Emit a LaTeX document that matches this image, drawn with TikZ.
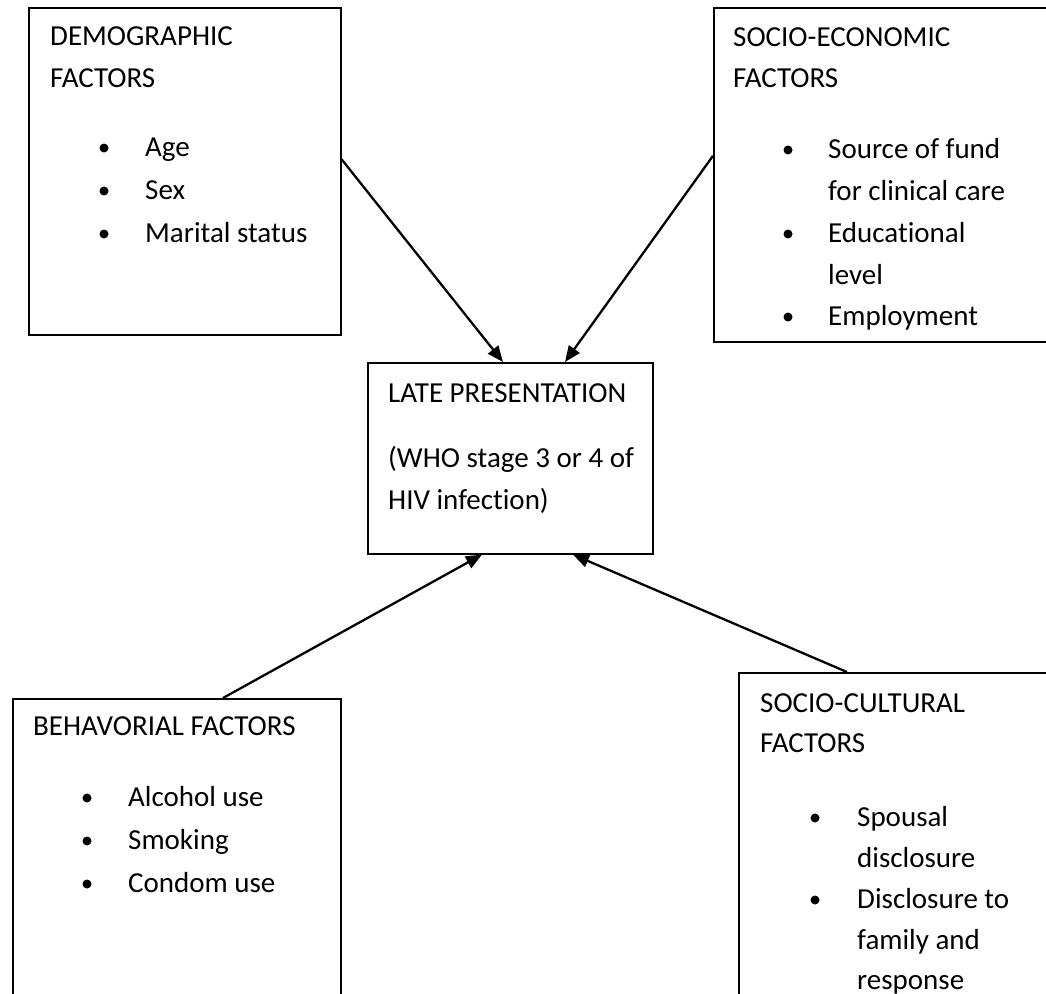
\documentclass[tikz,border=0pt]{standalone}
\usepackage{fontspec}
\setmainfont{Carlito}[Ligatures={NoCommon}]
\usetikzlibrary{arrows.meta,calc}
\begin{document}
\begin{tikzpicture}[x=1pt,y=-1pt,
  box/.style={draw, line width=1.6pt, anchor=north west, inner sep=0pt},
  txt/.style={anchor=base west, inner sep=0pt, font=\fontsize{29}{35}\selectfont},
  arr/.style={line width=2.3pt, -{Triangle[length=16pt,width=13pt]}},
  dot/.style={circle, fill, inner sep=0pt, minimum size=9pt}
]
\useasboundingbox (0,0) rectangle (1046,993);
\clip (0,0) rectangle (1046,993);

% boxes
\node[box, minimum width=312pt, minimum height=327pt] (demo) at (28,7) {};
\node[box, minimum width=400pt, minimum height=334pt] (socio) at (713,7) {};
\node[box, minimum width=285pt, minimum height=191pt] (late) at (367,362) {};
\node[box, minimum width=328pt, minimum height=400pt] (behav) at (12,698) {};
\node[box, minimum width=400pt, minimum height=400pt] (cult) at (738,672) {};

% demographic
\node[txt] (d1) at (50,45) {DEMOGRAPHIC};
\node[txt] (d2) at (50,87) {FACTORS};
\node[dot] (db1) at (104,148) {};
\node[txt] (d3) at (145,156) {Age};
\node[dot] (db2) at (104,191) {};
\node[txt] (d4) at (145,199) {Sex};
\node[dot] (db3) at (104,234) {};
\node[txt] (d5) at (145,242) {Marital status};

% socio-economic
\node[txt] (s1) at (733,46) {SOCIO-ECONOMIC};
\node[txt] (s2) at (733,87) {FACTORS};
\node[dot] (sb1) at (788,150) {};
\node[txt] (s3) at (828,158) {Source of fund};
\node[txt] (s4) at (828,200) {for clinical care};
\node[dot] (sb2) at (788,234) {};
\node[txt] (s5) at (828,242) {Educational};
\node[txt] (s6) at (828,284) {level};
\node[dot] (sb3) at (788,317) {};
\node[txt] (s7) at (828,325) {Employment};

% late presentation
\node[txt] (l1) at (388,402) {LATE PRESENTATION};
\node[txt] (l2) at (388,467) {(WHO stage 3 or 4 of};
\node[txt] (l3) at (388,509) {HIV infection)};

% behavorial
\node[txt] (b1) at (33,735) {BEHAVORIAL FACTORS};
\node[dot] (bb1) at (87,798) {};
\node[txt] (b2) at (128,806) {Alcohol use};
\node[dot] (bb2) at (87,841) {};
\node[txt] (b3) at (128,849) {Smoking};
\node[dot] (bb3) at (87,884) {};
\node[txt] (b4) at (128,892) {Condom use};

% socio-cultural
\node[txt] (c1) at (760,712) {SOCIO-CULTURAL};
\node[txt] (c2) at (760,752) {FACTORS};
\node[dot] (cb1) at (815,818) {};
\node[txt] (c3) at (857,826) {Spousal};
\node[txt] (c4) at (857,867) {disclosure};
\node[dot] (cb2) at (815,900) {};
\node[txt] (c5) at (857,908) {Disclosure to};
\node[txt] (c6) at (857,949) {family and};
\node[txt] (c7) at (857,989) {response};

% arrows
\draw[arr] ([yshift=12pt]demo.east) -- ($(late.north west)+(136,0)$);
\draw[arr] ([yshift=19pt]socio.west) -- ($(late.north west)+(198,0)$);
\draw[arr] ($(behav.north west)+(211,0)$) -- ($(late.south west)+(115,0)$);
\draw[arr] ($(cult.north west)+(109,0)$) -- ($(late.south west)+(206,0)$);
\end{tikzpicture}
\end{document}
